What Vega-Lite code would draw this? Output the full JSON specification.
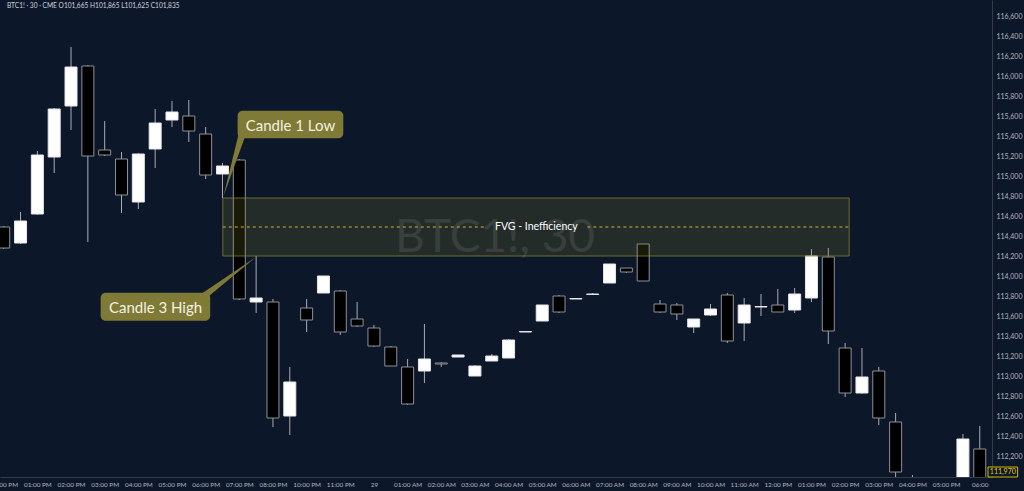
{
  "$schema": "https://vega.github.io/schema/vega-lite/v6.json",
  "autosize": "none",
  "width": 992,
  "height": 477,
  "padding": {"left": 0, "top": 0, "right": 32, "bottom": 14},
  "background": "#0d172a",
  "config": {
    "view": {"stroke": null},
    "axis": {"grid": false, "ticks": false, "domainColor": "#363a45", "labelColor": "#b2b5be", "labelFont": "Lato", "labelPadding": 4, "labelOverlap": false, "labelBound": false, "title": null}
  },
  "datasets": {
    "candles": [
      {"i": 0, "o": 114490, "h": 114500, "l": 114270, "c": 114280},
      {"i": 1, "o": 114330, "h": 114640, "l": 114320, "c": 114550},
      {"i": 2, "o": 114620, "h": 115250, "l": 114610, "c": 115210},
      {"i": 3, "o": 115190, "h": 115680, "l": 115030, "c": 115670},
      {"i": 4, "o": 115700, "h": 116290, "l": 115460, "c": 116090},
      {"i": 5, "o": 116100, "h": 116110, "l": 114340, "c": 115200},
      {"i": 6, "o": 115260, "h": 115550, "l": 115200, "c": 115210},
      {"i": 7, "o": 115170, "h": 115240, "l": 114630, "c": 114810},
      {"i": 8, "o": 114740, "h": 115230, "l": 114670, "c": 115220},
      {"i": 9, "o": 115270, "h": 115670, "l": 115080, "c": 115530},
      {"i": 10, "o": 115560, "h": 115750, "l": 115490, "c": 115640},
      {"i": 11, "o": 115600, "h": 115760, "l": 115340, "c": 115450},
      {"i": 12, "o": 115420, "h": 115490, "l": 114970, "c": 115010},
      {"i": 13, "o": 115020, "h": 115130, "l": 114780, "c": 115100},
      {"i": 14, "o": 115160, "h": 115170, "l": 113760, "c": 113770},
      {"i": 15, "o": 113740, "h": 114200, "l": 113630, "c": 113780},
      {"i": 16, "o": 113740, "h": 113770, "l": 112490, "c": 112580},
      {"i": 17, "o": 112600, "h": 113090, "l": 112410, "c": 112940},
      {"i": 18, "o": 113680, "h": 113770, "l": 113440, "c": 113560},
      {"i": 19, "o": 113830, "h": 114000, "l": 113830, "c": 114000},
      {"i": 20, "o": 113850, "h": 113860, "l": 113410, "c": 113440},
      {"i": 21, "o": 113570, "h": 113740, "l": 113490, "c": 113500},
      {"i": 22, "o": 113480, "h": 113510, "l": 113290, "c": 113300},
      {"i": 23, "o": 113290, "h": 113300, "l": 113100, "c": 113100},
      {"i": 24, "o": 113090, "h": 113170, "l": 112710, "c": 112720},
      {"i": 25, "o": 113050, "h": 113520, "l": 112930, "c": 113170},
      {"i": 26, "o": 113130, "h": 113140, "l": 113090, "c": 113120},
      {"i": 27, "o": 113190, "h": 113210, "l": 113190, "c": 113210},
      {"i": 28, "o": 113000, "h": 113110, "l": 113000, "c": 113100},
      {"i": 29, "o": 113150, "h": 113220, "l": 113150, "c": 113200},
      {"i": 30, "o": 113180, "h": 113370, "l": 113180, "c": 113360},
      {"i": 31, "o": 113440, "h": 113445, "l": 113440, "c": 113445},
      {"i": 32, "o": 113550, "h": 113710, "l": 113550, "c": 113710},
      {"i": 33, "o": 113800, "h": 113810, "l": 113630, "c": 113640},
      {"i": 34, "o": 113770, "h": 113775, "l": 113770, "c": 113775},
      {"i": 35, "o": 113815, "h": 113830, "l": 113815, "c": 113820},
      {"i": 36, "o": 113930, "h": 114120, "l": 113930, "c": 114120},
      {"i": 37, "o": 114080, "h": 114080, "l": 114030, "c": 114040},
      {"i": 38, "o": 114320, "h": 114320, "l": 113950, "c": 113950},
      {"i": 39, "o": 113720, "h": 113760, "l": 113630, "c": 113640},
      {"i": 40, "o": 113710, "h": 113730, "l": 113560, "c": 113620},
      {"i": 41, "o": 113490, "h": 113570, "l": 113430, "c": 113570},
      {"i": 42, "o": 113610, "h": 113720, "l": 113600, "c": 113670},
      {"i": 43, "o": 113810, "h": 113830, "l": 113330, "c": 113350},
      {"i": 44, "o": 113530, "h": 113780, "l": 113350, "c": 113710},
      {"i": 45, "o": 113690, "h": 113820, "l": 113600, "c": 113695},
      {"i": 46, "o": 113710, "h": 113870, "l": 113640, "c": 113640},
      {"i": 47, "o": 113660, "h": 113880, "l": 113630, "c": 113820},
      {"i": 48, "o": 113780, "h": 114270, "l": 113740, "c": 114200},
      {"i": 49, "o": 114190, "h": 114280, "l": 113320, "c": 113450},
      {"i": 50, "o": 113280, "h": 113330, "l": 112790, "c": 112830},
      {"i": 51, "o": 112830, "h": 113280, "l": 112820, "c": 112990},
      {"i": 52, "o": 113050, "h": 113090, "l": 112510, "c": 112580},
      {"i": 53, "o": 112540, "h": 112630, "l": 111980, "c": 112040},
      {"i": 54, "o": 111960, "h": 112010, "l": 111800, "c": 111850},
      {"i": 55, "o": 111850, "h": 111900, "l": 111650, "c": 111750},
      {"i": 56, "o": 111750, "h": 111950, "l": 111700, "c": 111900},
      {"i": 57, "o": 111900, "h": 112420, "l": 111880, "c": 112370},
      {"i": 58, "o": 112270, "h": 112500, "l": 111950, "c": 111970}
    ]
  },
  "encoding": {
    "x": {"type": "quantitative", "title": null, "scale": {"domain": [0.0765, 58.43], "nice": false, "zero": false},
      "axis": {"orient": "bottom", "labelFontSize": 6.4, "values": [0,2,4,6,8,10,12,14,16,18,20,22,24,26,28,30,32,34,36,38,40,42,44,46,48,50,52,54,56,58],
        "labelExpr": "['12:00 PM','01:00 PM','02:00 PM','03:00 PM','04:00 PM','05:00 PM','06:00 PM','07:00 PM','08:00 PM','10:00 PM','11:00 PM','29','01:00 AM','02:00 AM','03:00 AM','04:00 AM','05:00 AM','06:00 AM','07:00 AM','08:00 AM','09:00 AM','10:00 AM','11:00 AM','12:00 PM','01:00 PM','02:00 PM','03:00 PM','04:00 PM','05:00 PM','06:00'][round(datum.value/2)]",
        "labelFlush": false}},
    "y": {"type": "quantitative", "title": null, "scale": {"domain": [111990, 116760], "nice": false, "zero": false},
      "axis": {"orient": "right", "labelFontSize": 7, "values": [112200,112400,112600,112800,113000,113200,113400,113600,113800,114000,114200,114400,114600,114800,115000,115200,115400,115600,115800,116000,116200,116400,116600],
        "labelExpr": "format(datum.value, ',')", "labelAlign": "left"}}
  },
  "layer": [
    {
      "data": {"values": [{"x": 29.19, "y": 114380, "t": "BTC1!, 30"}]},
      "mark": {"type": "text", "font": "Lato", "fontSize": 46, "color": "#8a8f9c", "opacity": 0.2, "align": "center", "baseline": "middle"},
      "encoding": {"x": {"field": "x"}, "y": {"field": "y"}, "text": {"field": "t"}}
    },
    {
      "data": {"name": "candles"},
      "mark": {"type": "rule", "color": "#a9acb4", "strokeWidth": 1, "clip": true},
      "encoding": {"x": {"field": "i"}, "y": {"field": "l"}, "y2": {"field": "h"}}
    },
    {
      "data": {"name": "candles"},
      "mark": {"type": "bar", "width": 12, "strokeWidth": 1, "clip": true},
      "encoding": {
        "x": {"field": "i"},
        "y": {"field": "o"},
        "y2": {"field": "c"},
        "fill": {"condition": {"test": "datum.c >= datum.o", "value": "#ffffff"}, "value": "#000000"},
        "stroke": {"condition": {"test": "datum.c >= datum.o", "value": "#e6e6e6"}, "value": "#8d9098"}
      }
    },
    {
      "data": {"values": [{"x": 13.02, "x2": 50.24, "y": 114200, "y2": 114780}]},
      "mark": {"type": "rect", "fill": "#80802a", "fillOpacity": 0.2, "stroke": "#8a8530", "strokeOpacity": 0.75, "strokeWidth": 1},
      "encoding": {"x": {"field": "x"}, "x2": {"field": "x2"}, "y": {"field": "y"}, "y2": {"field": "y2"}}
    },
    {
      "data": {"values": [{"x": 13.02, "x2": 28.7, "y": 114490}, {"x": 34.68, "x2": 50.24, "y": 114490}]},
      "mark": {"type": "rule", "color": "#c9b43a", "strokeWidth": 1, "strokeDash": [3, 3]},
      "encoding": {"x": {"field": "x"}, "x2": {"field": "x2"}, "y": {"field": "y"}}
    },
    {
      "data": {"values": [{"x": 31.65, "y": 114490, "t": "FVG - Inefficiency"}]},
      "mark": {"type": "text", "font": "Lato", "fontSize": 10.5, "color": "#ffffff", "align": "center", "baseline": "middle"},
      "encoding": {"x": {"field": "x"}, "y": {"field": "y"}, "text": {"field": "t"}}
    },
    {
      "data": {"values": [{"y": 115420, "x": 13.96, "x2": 14.4}, {"y": 114800, "x": 13.06, "x2": 13.06}]},
      "mark": {"type": "area", "orient": "horizontal", "color": "#7f7a36"},
      "encoding": {"y": {"field": "y"}, "x": {"field": "x"}, "x2": {"field": "x2"}}
    },
    {
      "data": {"values": [{"y": 113800, "x": 11.55, "x2": 12.2}, {"y": 114190, "x": 14.99, "x2": 14.99}]},
      "mark": {"type": "area", "orient": "horizontal", "color": "#7f7a36"},
      "encoding": {"y": {"field": "y"}, "x": {"field": "x"}, "x2": {"field": "x2"}}
    },
    {
      "data": {"values": [
        {"x": 13.9, "x2": 20.18, "y": 115377, "y2": 115653},
        {"x": 5.76, "x2": 12.27, "y": 113553, "y2": 113833}
      ]},
      "mark": {"type": "rect", "color": "#7f7a36", "cornerRadius": 5},
      "encoding": {"x": {"field": "x"}, "x2": {"field": "x2"}, "y": {"field": "y"}, "y2": {"field": "y2"}}
    },
    {
      "data": {"values": [
        {"x": 17.04, "y": 115505, "t": "Candle 1 Low"},
        {"x": 9.02, "y": 113683, "t": "Candle 3 High"}
      ]},
      "mark": {"type": "text", "font": "Lato", "fontSize": 15, "color": "#f4f1e0", "align": "center", "baseline": "middle"},
      "encoding": {"x": {"field": "x"}, "y": {"field": "y"}, "text": {"field": "t"}}
    },
    {
      "data": {"values": [{"x": 0.19, "y": 116700, "t": "BTC1! · 30 · CME  O101,665  H101,865  L101,625  C101,835"}]},
      "mark": {"type": "text", "font": "Lato", "fontSize": 6.6, "color": "#d1d4dc", "align": "left", "baseline": "middle"},
      "encoding": {"x": {"field": "x"}, "y": {"field": "y"}, "text": {"field": "t"}}
    },
    {
      "data": {"values": [{"x": 58.49, "x2": 60.25, "y": 111990, "y2": 112090}]},
      "mark": {"type": "rect", "fill": "#0d172a", "stroke": "#d4b800", "strokeWidth": 1},
      "encoding": {"x": {"field": "x"}, "x2": {"field": "x2"}, "y": {"field": "y"}, "y2": {"field": "y2"}}
    },
    {
      "data": {"values": [{"x": 59.37, "y": 112040, "t": "111,970"}]},
      "mark": {"type": "text", "font": "Lato", "fontSize": 7, "color": "#e8cc10", "align": "center", "baseline": "middle"},
      "encoding": {"x": {"field": "x"}, "y": {"field": "y"}, "text": {"field": "t"}}
    }
  ]
}
